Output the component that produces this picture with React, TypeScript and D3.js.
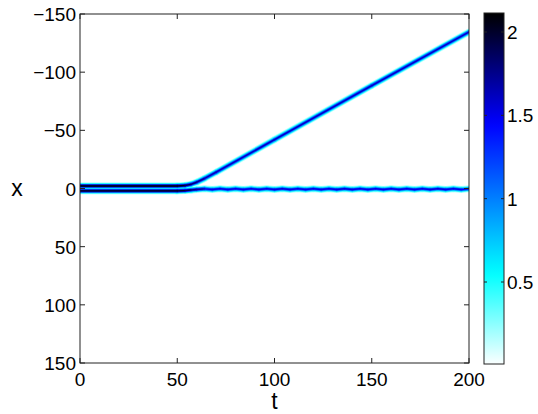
import React from "react";
import * as d3 from "d3";

// ---- data ----
const xTicks = [0, 50, 100, 150, 200];
const yTicks = [-150, -100, -50, 0, 50, 100, 150];
const cbTicks = [0.5, 1, 1.5, 2];
const cbDomain = [0.008, 2.114];

// colormap (value -> colour)
const cmapValues = [0, 0.55, 1.45, 2.11];
const cmapColors = ["#ffffff", "#00ffff", "#0000ff", "#000000"];

// moving soliton trajectory
const movingT = [0, 50, 54, 57, 60, 64, 70, 100, 150, 200];
const movingX = [-2.2, -2.2, -2.6, -3.6, -5.4, -8.6, -14, -42, -88.5, -134.5];
const movingPeak = [2.1, 2.1, 2.0, 1.85, 1.75, 1.65, 1.6, 1.58, 1.58, 1.58];

// trapped (quasi-stationary) soliton trajectory
const stayT = [0, 50, 54, 57, 60, 64, 68, 72, 76, 80, 84, 88, 92, 96, 100, 104, 108, 112, 116, 120, 124, 128, 132, 136, 140, 144, 148, 152, 156, 160, 164, 168, 172, 176, 180, 184, 188, 192, 196, 200];
const stayX = [2.0, 2.0, 1.8, 1.3, 0.8, 0.3, 0.9, 0.2, 0.9, 0.2, 0.9, 0.2, 0.9, 0.2, 0.9, 0.2, 0.9, 0.2, 0.9, 0.2, 0.9, 0.2, 0.9, 0.2, 0.9, 0.2, 0.9, 0.2, 0.9, 0.2, 0.9, 0.2, 0.9, 0.2, 0.9, 0.2, 0.9, 0.2, 0.9, 0.3];
const stayPeak = [2.1, 2.1, 2.0, 1.85, 1.7, 1.7, 1.3, 1.7, 1.3, 1.7, 1.3, 1.7, 1.3, 1.7, 1.3, 1.75, 1.3, 1.7, 1.3, 1.7, 1.3, 1.7, 1.3, 1.75, 1.3, 1.7, 1.3, 1.7, 1.3, 1.7, 1.3, 1.7, 1.3, 1.7, 1.3, 1.75, 1.3, 1.7, 1.3, 1.6];

// ---- layout ----
const W = 538, H = 414;
const L = 80, R = 469, T = 14, B = 363;
const CBL = 484, CBR = 504, CBT = 13, CBB = 364;
const FONT = "'Liberation Sans', Arial, Helvetica, sans-serif";

const xS = d3.scaleLinear().domain([0, 200]).range([L, R]);
const yS = d3.scaleLinear().domain([-150, 150]).range([T, B]);
const cbS = d3.scaleLinear().domain(cbDomain).range([CBB, CBT]);
const cmap = d3.scaleLinear<string>().domain(cmapValues).range(cmapColors).clamp(true);

const layers = [
  { f: 0.1, w: 7 },
  { f: 0.28, w: 5.4 },
  { f: 0.5, w: 4.0 },
  { f: 0.75, w: 2.7 },
  { f: 1, w: 1.4 },
];

type Traj = { t: number[]; x: number[]; p: number[] };
const trajs: Traj[] = [
  { t: stayT, x: stayX, p: stayPeak },
  { t: movingT, x: movingX, p: movingPeak },
];

const line = d3.line<[number, number]>().x(d => xS(d[0])).y(d => yS(d[1]));

export default function App() {
  const segs: { d: string; p: number }[][] = trajs.map(tr =>
    tr.t.slice(1).map((_, i) => ({
      d: line([[tr.t[i], tr.x[i]], [tr.t[i + 1], tr.x[i + 1]]]) as string,
      p: (tr.p[i] + tr.p[i + 1]) / 2,
    }))
  );
  const tickLen = 5;
  return (
    <svg width={W} height={H} style={{ position: "absolute", left: 0, top: 0, background: "#fff" }} fontFamily={FONT}>
      <defs>
        <clipPath id="plotclip">
          <rect x={L} y={T} width={R - L} height={B - T} />
        </clipPath>
        <linearGradient id="cbgrad" x1="0" y1="1" x2="0" y2="0">
          {d3.range(0, 41).map(i => {
            const v = cbDomain[0] + (i / 40) * (cbDomain[1] - cbDomain[0]);
            return <stop key={i} offset={`${(i / 40) * 100}%`} stopColor={cmap(v)} />;
          })}
        </linearGradient>
      </defs>
      <rect x={L} y={T} width={R - L} height={B - T} fill="#fff" />
      <g clipPath="url(#plotclip)">
        {layers.map((ly, li) => (
          <g key={li}>
            {segs.map((ss, si) =>
              ss.map((s, k) => (
                <path key={`${si}-${k}`} d={s.d} fill="none" stroke={cmap(ly.f * s.p)} strokeWidth={ly.w} strokeLinecap="round" />
              ))
            )}
          </g>
        ))}
      </g>
      {/* axes box */}
      <rect x={L} y={T} width={R - L} height={B - T} fill="none" stroke="#222" strokeWidth={1} />
      {xTicks.map(v => (
        <g key={`xt${v}`}>
          <line x1={xS(v)} x2={xS(v)} y1={B} y2={B - tickLen} stroke="#222" />
          <line x1={xS(v)} x2={xS(v)} y1={T} y2={T + tickLen} stroke="#222" />
          <text x={xS(v)} y={386} textAnchor="middle" fontSize={19} fill="#000">{v}</text>
        </g>
      ))}
      {yTicks.map(v => (
        <g key={`yt${v}`}>
          <line x1={L} x2={L + tickLen} y1={yS(v)} y2={yS(v)} stroke="#222" />
          <line x1={R} x2={R - tickLen} y1={yS(v)} y2={yS(v)} stroke="#222" />
          <text x={76} y={yS(v) + 7} textAnchor="end" fontSize={19} fill="#000">{v < 0 ? `\u2212${-v}` : v}</text>
        </g>
      ))}
      <text x={(L + R) / 2} y={409} textAnchor="middle" fontSize={23} fill="#000">t</text>
      <text x={17} y={196} textAnchor="middle" fontSize={23} fill="#000">x</text>
      {/* colorbar */}
      <rect x={CBL} y={CBT} width={CBR - CBL} height={CBB - CBT} fill="url(#cbgrad)" />
      <rect x={CBL} y={CBT} width={CBR - CBL} height={CBB - CBT} fill="none" stroke="#222" />
      {cbTicks.map(v => (
        <g key={`cb${v}`}>
          <line x1={CBL} x2={CBL + 3} y1={cbS(v)} y2={cbS(v)} stroke="#222" />
          <line x1={CBR} x2={CBR - 3} y1={cbS(v)} y2={cbS(v)} stroke="#222" />
          <text x={507} y={cbS(v) + 7} fontSize={19} fill="#000">{v}</text>
        </g>
      ))}
    </svg>
  );
}
